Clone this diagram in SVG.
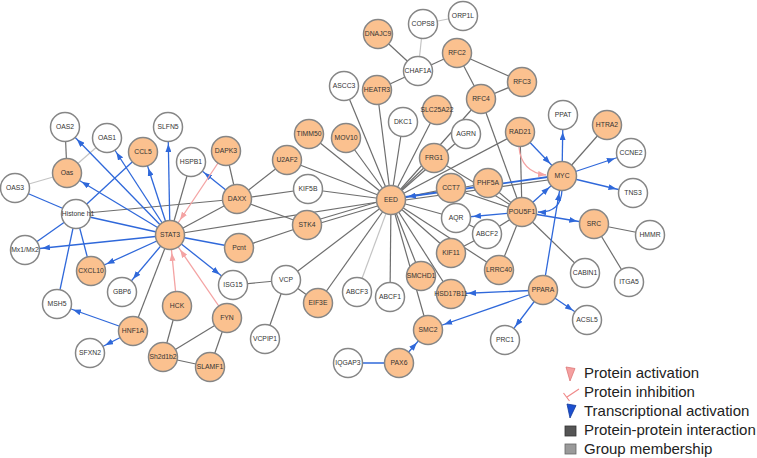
<svg xmlns="http://www.w3.org/2000/svg" width="757" height="458" viewBox="0 0 757 458">
<style>
.e{stroke:#6e6e6e;stroke-width:1.2;fill:none}
.l{stroke:#c4c4c4;stroke-width:1.2;fill:none}
.b{stroke:#2f68da;stroke-width:1.3;fill:none}
.ba{stroke:#2f68da;stroke-width:1.3;fill:none;marker-end:url(#ab)}
.pa{stroke:#f4a3a3;stroke-width:1.3;fill:none;marker-end:url(#ap)}
.o{fill:#fbc18f;stroke:#868686;stroke-width:1.5}
.w{fill:#ffffff;stroke:#868686;stroke-width:1.5}
text{font-family:"Liberation Sans",Arial,sans-serif;font-size:6.8px;fill:#333;text-anchor:middle}
.lg{font-size:15px;text-anchor:start;fill:#222}
</style>
<defs>
<marker id="ab" markerUnits="userSpaceOnUse" markerWidth="8" markerHeight="6" viewBox="0 0 8 6" refX="25" refY="3" orient="auto"><path d="M0,0 L8,3 L0,6 z" fill="#2f68da"/></marker>
<marker id="ap" markerUnits="userSpaceOnUse" markerWidth="8" markerHeight="6" viewBox="0 0 8 6" refX="26" refY="3" orient="auto"><path d="M0,0 L8,3 L0,6 z" fill="#f4a3a3"/></marker>
<marker id="ap2" markerUnits="userSpaceOnUse" markerWidth="8" markerHeight="6" viewBox="0 0 8 6" refX="8" refY="3" orient="auto"><path d="M0,0 L8,3 L0,6 z" fill="#f4a3a3"/></marker>
<marker id="ab2" markerUnits="userSpaceOnUse" markerWidth="8" markerHeight="6" viewBox="0 0 8 6" refX="8" refY="3" orient="auto"><path d="M0,0 L8,3 L0,6 z" fill="#2f68da"/></marker>
</defs>
<rect width="757" height="458" fill="#ffffff"/>
<g id="connectors">
<line class="e" x1="67" y1="173" x2="65" y2="127"/>
<line class="l" x1="67" y1="173" x2="107" y2="138"/>
<line class="l" x1="67" y1="173" x2="15" y2="188"/>
<line class="e" x1="191" y1="162" x2="170" y2="235"/>
<line class="e" x1="226" y1="151" x2="237" y2="199"/>
<line class="e" x1="237" y1="199" x2="170" y2="235"/>
<line class="e" x1="76" y1="214" x2="237" y2="199"/>
<line class="e" x1="237" y1="199" x2="287" y2="160"/>
<line class="e" x1="237" y1="199" x2="308" y2="189"/>
<line class="e" x1="237" y1="199" x2="307" y2="225"/>
<line class="e" x1="170" y1="235" x2="391" y2="200"/>
<line class="e" x1="170" y1="235" x2="133" y2="331"/>
<line class="e" x1="239" y1="248" x2="307" y2="225"/>
<line class="e" x1="233" y1="285" x2="286" y2="280"/>
<line class="e" x1="286" y1="280" x2="265" y2="339"/>
<line class="e" x1="286" y1="280" x2="318" y2="303"/>
<line class="e" x1="286" y1="280" x2="391" y2="200"/>
<line class="e" x1="318" y1="303" x2="391" y2="200"/>
<line class="e" x1="177" y1="306" x2="163" y2="357"/>
<line class="e" x1="227" y1="318" x2="163" y2="357"/>
<line class="e" x1="227" y1="318" x2="210" y2="367"/>
<line class="e" x1="163" y1="357" x2="210" y2="367"/>
<line class="e" x1="378" y1="34" x2="418" y2="71"/>
<line class="e" x1="418" y1="71" x2="457" y2="53"/>
<line class="e" x1="418" y1="71" x2="377" y2="90"/>
<line class="e" x1="457" y1="53" x2="522" y2="82"/>
<line class="e" x1="457" y1="53" x2="481" y2="99"/>
<line class="e" x1="522" y1="82" x2="481" y2="99"/>
<line class="e" x1="481" y1="99" x2="391" y2="200"/>
<line class="e" x1="481" y1="99" x2="522" y2="212"/>
<line class="e" x1="344" y1="86" x2="391" y2="200"/>
<line class="e" x1="377" y1="90" x2="391" y2="200"/>
<line class="e" x1="403" y1="122" x2="391" y2="200"/>
<line class="e" x1="437" y1="110" x2="391" y2="200"/>
<line class="e" x1="309" y1="134" x2="391" y2="200"/>
<line class="e" x1="346" y1="138" x2="391" y2="200"/>
<line class="e" x1="287" y1="160" x2="391" y2="200"/>
<line class="e" x1="308" y1="189" x2="391" y2="200"/>
<line class="e" x1="466" y1="134" x2="391" y2="200"/>
<line class="e" x1="434" y1="158" x2="391" y2="200"/>
<line class="e" x1="434" y1="158" x2="522" y2="212"/>
<line class="e" x1="520" y1="132" x2="391" y2="200"/>
<line class="e" x1="520" y1="132" x2="522" y2="212"/>
<line class="e" x1="451" y1="188" x2="391" y2="200"/>
<line class="e" x1="488" y1="183" x2="391" y2="200"/>
<line class="e" x1="451" y1="188" x2="522" y2="212"/>
<line class="e" x1="488" y1="183" x2="522" y2="212"/>
<line class="e" x1="562" y1="176" x2="607" y2="125"/>
<line class="e" x1="456" y1="218" x2="391" y2="200"/>
<line class="e" x1="456" y1="218" x2="487" y2="234"/>
<line class="e" x1="487" y1="234" x2="522" y2="212"/>
<line class="e" x1="487" y1="234" x2="451" y2="253"/>
<line class="e" x1="451" y1="253" x2="391" y2="200"/>
<line class="e" x1="499" y1="270" x2="391" y2="200"/>
<line class="e" x1="499" y1="270" x2="522" y2="212"/>
<line class="e" x1="522" y1="212" x2="585" y2="273"/>
<line class="e" x1="594" y1="224" x2="650" y2="235"/>
<line class="e" x1="594" y1="224" x2="629" y2="282"/>
<line class="e" x1="421" y1="276" x2="391" y2="200"/>
<line class="e" x1="451" y1="294" x2="391" y2="200"/>
<line class="e" x1="428" y1="330" x2="391" y2="200"/>
<line class="e" x1="390" y1="297" x2="391" y2="200"/>
<line class="e" x1="307" y1="223" x2="391" y2="198"/>
<line class="e" x1="307" y1="227" x2="391" y2="202"/>
<line class="l" x1="357" y1="292" x2="391" y2="200"/>
<line class="l" x1="423" y1="24" x2="418" y2="71"/>
<line class="l" x1="423" y1="24" x2="463" y2="16"/>
<line class="e" x1="562" y1="178" x2="391" y2="202"/>
<line class="ba" x1="170" y1="235" x2="65" y2="127"/>
<line class="ba" x1="170" y1="235" x2="107" y2="138"/>
<line class="ba" x1="170" y1="235" x2="168" y2="127"/>
<line class="ba" x1="170" y1="235" x2="143" y2="152"/>
<line class="ba" x1="170" y1="235" x2="67" y2="173"/>
<line class="ba" x1="170" y1="235" x2="25" y2="250"/>
<line class="ba" x1="170" y1="235" x2="91" y2="271"/>
<line class="ba" x1="170" y1="235" x2="122" y2="292"/>
<line class="ba" x1="170" y1="235" x2="233" y2="285"/>
<line class="b" x1="170" y1="235" x2="239" y2="248"/>
<line class="ba" x1="237" y1="199" x2="191" y2="162"/>
<line class="ba" x1="133" y1="331" x2="57" y2="304"/>
<line class="ba" x1="133" y1="331" x2="90" y2="353"/>
<line class="ba" x1="562" y1="176" x2="563" y2="115"/>
<line class="ba" x1="562" y1="176" x2="631" y2="153"/>
<line class="ba" x1="562" y1="176" x2="633" y2="193"/>
<line class="ba" x1="562" y1="175" x2="391" y2="199" style="stroke-width:1.8"/>
<line class="ba" x1="520" y1="132" x2="562" y2="176"/>
<line class="ba" x1="522" y1="212" x2="562" y2="176"/>
<line class="ba" x1="522" y1="212" x2="456" y2="218"/>
<line class="ba" x1="522" y1="212" x2="594" y2="224"/>
<path class="b" d="M562,190 Q561,213 538,212" style="marker-end:url(#ab2)"/>
<line class="ba" x1="543" y1="290" x2="562" y2="176"/>
<line class="ba" x1="543" y1="290" x2="451" y2="294"/>
<line class="ba" x1="543" y1="290" x2="428" y2="330"/>
<line class="ba" x1="543" y1="290" x2="505" y2="340"/>
<line class="ba" x1="543" y1="290" x2="587" y2="320"/>
<line class="ba" x1="399" y1="363" x2="428" y2="330"/>
<line class="b" x1="348" y1="363" x2="399" y2="363"/>
<line class="b" x1="76" y1="214" x2="15" y2="188"/>
<line class="b" x1="76" y1="214" x2="143" y2="152"/>
<line class="b" x1="76" y1="214" x2="25" y2="250"/>
<line class="b" x1="76" y1="214" x2="91" y2="271"/>
<line class="b" x1="76" y1="214" x2="57" y2="304"/>
<line class="b" x1="76" y1="214" x2="170" y2="235"/>
<line class="pa" x1="226" y1="151" x2="170" y2="235"/>
<line class="pa" x1="177" y1="306" x2="170" y2="235"/>
<line class="pa" x1="227" y1="318" x2="170" y2="235"/>
<path d="M519,147 Q521,172 546,175" stroke="#f4a3a3" stroke-width="1.3" fill="none" marker-end="url(#ap2)"/>
</g>
<g id="n-OAS2"><circle class="w" cx="65" cy="127" r="14.5"/><text x="65" y="129.4">OAS2</text></g>
<g id="n-OAS1"><circle class="w" cx="107" cy="138" r="14.5"/><text x="107" y="140.4">OAS1</text></g>
<g id="n-SLFN5"><circle class="w" cx="168" cy="127" r="14.5"/><text x="168" y="129.4">SLFN5</text></g>
<g id="n-CCL5"><circle class="o" cx="143" cy="152" r="14.5"/><text x="143" y="154.4">CCL5</text></g>
<g id="n-Oas"><circle class="o" cx="67" cy="173" r="14.5"/><text x="67" y="175.4">Oas</text></g>
<g id="n-OAS3"><circle class="w" cx="15" cy="188" r="14.5"/><text x="15" y="190.4">OAS3</text></g>
<g id="n-HSPB1"><circle class="w" cx="191" cy="162" r="14.5"/><text x="191" y="164.4">HSPB1</text></g>
<g id="n-DAPK3"><circle class="o" cx="226" cy="151" r="14.5"/><text x="226" y="153.4">DAPK3</text></g>
<g id="n-DAXX"><circle class="o" cx="237" cy="199" r="14.5"/><text x="237" y="201.4">DAXX</text></g>
<g id="n-Histone"><circle class="w" cx="76" cy="214" r="14.5"/><text x="78" y="216.4">Histone h1</text></g>
<g id="n-STAT3"><circle class="o" cx="170" cy="235" r="14.5"/><text x="170" y="237.4">STAT3</text></g>
<g id="n-Mx1Mx2"><circle class="w" cx="25" cy="250" r="14.5"/><text x="25" y="252.4">Mx1/Mx2</text></g>
<g id="n-Pcnt"><circle class="o" cx="239" cy="248" r="14.5"/><text x="239" y="250.4">Pcnt</text></g>
<g id="n-CXCL10"><circle class="o" cx="91" cy="271" r="14.5"/><text x="91" y="273.4">CXCL10</text></g>
<g id="n-GBP6"><circle class="w" cx="122" cy="292" r="14.5"/><text x="122" y="294.4">GBP6</text></g>
<g id="n-ISG15"><circle class="w" cx="233" cy="285" r="14.5"/><text x="233" y="287.4">ISG15</text></g>
<g id="n-VCP"><circle class="w" cx="286" cy="280" r="14.5"/><text x="286" y="282.4">VCP</text></g>
<g id="n-MSH5"><circle class="w" cx="57" cy="304" r="14.5"/><text x="57" y="306.4">MSH5</text></g>
<g id="n-HCK"><circle class="o" cx="177" cy="306" r="14.5"/><text x="177" y="308.4">HCK</text></g>
<g id="n-FYN"><circle class="o" cx="227" cy="318" r="14.5"/><text x="227" y="320.4">FYN</text></g>
<g id="n-HNF1A"><circle class="o" cx="133" cy="331" r="14.5"/><text x="133" y="333.4">HNF1A</text></g>
<g id="n-VCPIP1"><circle class="w" cx="265" cy="339" r="14.5"/><text x="265" y="341.4">VCPIP1</text></g>
<g id="n-SFXN2"><circle class="w" cx="90" cy="353" r="14.5"/><text x="90" y="355.4">SFXN2</text></g>
<g id="n-Sh2d1b2"><circle class="o" cx="163" cy="357" r="14.5"/><text x="163" y="359.4">Sh2d1b2</text></g>
<g id="n-SLAMF1"><circle class="o" cx="210" cy="367" r="14.5"/><text x="210" y="369.4">SLAMF1</text></g>
<g id="n-ORP1L"><circle class="w" cx="463" cy="16" r="14.5"/><text x="463" y="18.4">ORP1L</text></g>
<g id="n-COPS8"><circle class="w" cx="423" cy="24" r="14.5"/><text x="423" y="26.4">COPS8</text></g>
<g id="n-DNAJC9"><circle class="o" cx="378" cy="34" r="14.5"/><text x="378" y="36.4">DNAJC9</text></g>
<g id="n-RFC2"><circle class="o" cx="457" cy="53" r="14.5"/><text x="457" y="55.4">RFC2</text></g>
<g id="n-CHAF1A"><circle class="w" cx="418" cy="71" r="14.5"/><text x="418" y="73.4">CHAF1A</text></g>
<g id="n-ASCC3"><circle class="w" cx="344" cy="86" r="14.5"/><text x="344" y="88.4">ASCC3</text></g>
<g id="n-HEATR3"><circle class="o" cx="377" cy="90" r="14.5"/><text x="377" y="92.4">HEATR3</text></g>
<g id="n-RFC3"><circle class="o" cx="522" cy="82" r="14.5"/><text x="522" y="84.4">RFC3</text></g>
<g id="n-RFC4"><circle class="o" cx="481" cy="99" r="14.5"/><text x="481" y="101.4">RFC4</text></g>
<g id="n-SLC25A22"><circle class="o" cx="437" cy="110" r="14.5"/><text x="437" y="112.4">SLC25A22</text></g>
<g id="n-DKC1"><circle class="w" cx="403" cy="122" r="14.5"/><text x="403" y="124.4">DKC1</text></g>
<g id="n-TIMM50"><circle class="o" cx="309" cy="134" r="14.5"/><text x="309" y="136.4">TIMM50</text></g>
<g id="n-MOV10"><circle class="o" cx="346" cy="138" r="14.5"/><text x="346" y="140.4">MOV10</text></g>
<g id="n-AGRN"><circle class="w" cx="466" cy="134" r="14.5"/><text x="466" y="136.4">AGRN</text></g>
<g id="n-U2AF2"><circle class="o" cx="287" cy="160" r="14.5"/><text x="287" y="162.4">U2AF2</text></g>
<g id="n-FRG1"><circle class="o" cx="434" cy="158" r="14.5"/><text x="434" y="160.4">FRG1</text></g>
<g id="n-KIF5B"><circle class="w" cx="308" cy="189" r="14.5"/><text x="308" y="191.4">KIF5B</text></g>
<g id="n-CCT7"><circle class="o" cx="451" cy="188" r="14.5"/><text x="451" y="190.4">CCT7</text></g>
<g id="n-PHF5A"><circle class="o" cx="488" cy="183" r="14.5"/><text x="488" y="185.4">PHF5A</text></g>
<g id="n-EED"><circle class="o" cx="391" cy="200" r="14.5"/><text x="391" y="202.4">EED</text></g>
<g id="n-PPAT"><circle class="w" cx="563" cy="115" r="14.5"/><text x="563" y="117.4">PPAT</text></g>
<g id="n-HTRA2"><circle class="o" cx="607" cy="125" r="14.5"/><text x="607" y="127.4">HTRA2</text></g>
<g id="n-RAD21"><circle class="o" cx="520" cy="132" r="14.5"/><text x="520" y="134.4">RAD21</text></g>
<g id="n-CCNE2"><circle class="w" cx="631" cy="153" r="14.5"/><text x="631" y="155.4">CCNE2</text></g>
<g id="n-MYC"><circle class="o" cx="562" cy="176" r="14.5"/><text x="562" y="178.4">MYC</text></g>
<g id="n-TNS3"><circle class="w" cx="633" cy="193" r="14.5"/><text x="633" y="195.4">TNS3</text></g>
<g id="n-AQR"><circle class="w" cx="456" cy="218" r="14.5"/><text x="456" y="220.4">AQR</text></g>
<g id="n-POU5F1"><circle class="o" cx="522" cy="212" r="14.5"/><text x="522" y="214.4">POU5F1</text></g>
<g id="n-SRC"><circle class="o" cx="594" cy="224" r="14.5"/><text x="594" y="226.4">SRC</text></g>
<g id="n-HMMR"><circle class="w" cx="650" cy="235" r="14.5"/><text x="650" y="237.4">HMMR</text></g>
<g id="n-ABCF2"><circle class="w" cx="487" cy="234" r="14.5"/><text x="487" y="236.4">ABCF2</text></g>
<g id="n-STK4"><circle class="o" cx="307" cy="225" r="14.5"/><text x="307" y="227.4">STK4</text></g>
<g id="n-KIF11"><circle class="o" cx="451" cy="253" r="14.5"/><text x="451" y="255.4">KIF11</text></g>
<g id="n-LRRC40"><circle class="o" cx="499" cy="270" r="14.5"/><text x="499" y="272.4">LRRC40</text></g>
<g id="n-CABIN1"><circle class="w" cx="585" cy="273" r="14.5"/><text x="585" y="275.4">CABIN1</text></g>
<g id="n-ITGA5"><circle class="w" cx="629" cy="282" r="14.5"/><text x="629" y="284.4">ITGA5</text></g>
<g id="n-SMCHD1"><circle class="o" cx="421" cy="276" r="14.5"/><text x="421" y="278.4">SMCHD1</text></g>
<g id="n-ABCF3"><circle class="w" cx="357" cy="292" r="14.5"/><text x="357" y="294.4">ABCF3</text></g>
<g id="n-ABCF1"><circle class="w" cx="390" cy="297" r="14.5"/><text x="390" y="299.4">ABCF1</text></g>
<g id="n-PPARA"><circle class="o" cx="543" cy="290" r="14.5"/><text x="543" y="292.4">PPARA</text></g>
<g id="n-HSD17B11"><circle class="o" cx="451" cy="294" r="14.5"/><text x="451" y="296.4">HSD17B11</text></g>
<g id="n-EIF3E"><circle class="o" cx="318" cy="303" r="14.5"/><text x="318" y="305.4">EIF3E</text></g>
<g id="n-ACSL5"><circle class="w" cx="587" cy="320" r="14.5"/><text x="587" y="322.4">ACSL5</text></g>
<g id="n-SMC2"><circle class="o" cx="428" cy="330" r="14.5"/><text x="428" y="332.4">SMC2</text></g>
<g id="n-PRC1"><circle class="w" cx="505" cy="340" r="14.5"/><text x="505" y="342.4">PRC1</text></g>
<g id="n-IQGAP3"><circle class="w" cx="348" cy="363" r="14.5"/><text x="348" y="365.4">IQGAP3</text></g>
<g id="n-PAX6"><circle class="o" cx="399" cy="363" r="14.5"/><text x="399" y="365.4">PAX6</text></g>
<g id="legend">
<path d="M566,367 L575,368.5 L570,381 z" fill="#f5a0a0" stroke="#d77" stroke-width="0.8"/>
<path d="M567,397 L579,389 M563.5,393 L569.5,401" stroke="#f08a8a" stroke-width="1.2" fill="none"/>
<path d="M567,404 L576,405.5 L570,418 z" fill="#1c4fcf" stroke="#123a9a" stroke-width="0.8"/>
<rect x="565" y="426" width="11" height="10" fill="#555" stroke="#333" stroke-width="0.8"/>
<rect x="565" y="444" width="11" height="10" fill="#9a9a9a" stroke="#666" stroke-width="0.8"/>
<text class="lg" x="584" y="378">Protein activation</text>
<text class="lg" x="584" y="397">Protein inhibition</text>
<text class="lg" x="584" y="416">Transcriptional activation</text>
<text class="lg" x="584" y="435">Protein-protein interaction</text>
<text class="lg" x="584" y="454">Group membership</text>
</g>
</svg>
